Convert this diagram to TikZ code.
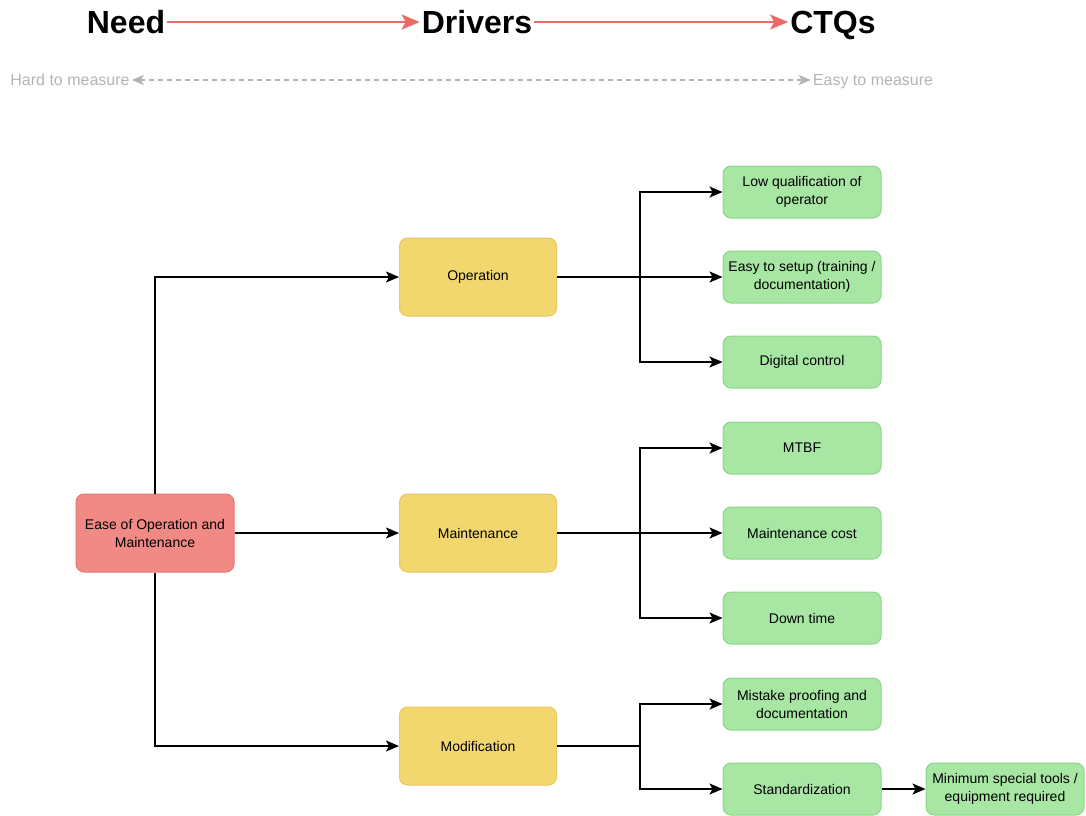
\documentclass[tikz,border=0pt]{standalone}
\usepackage{fontspec}
\setmainfont{Liberation Sans}
\usetikzlibrary{arrows.meta}
\definecolor{needred}{RGB}{241,137,132}
\definecolor{needredline}{RGB}{228,120,116}
\definecolor{drvyellow}{RGB}{242,214,110}
\definecolor{drvyellowline}{RGB}{232,200,95}
\definecolor{ctqgreen}{RGB}{168,230,164}
\definecolor{ctqgreenline}{RGB}{140,214,136}
\definecolor{flowred}{RGB}{234,107,102}
\definecolor{hintgray}{RGB}{180,180,180}
\tikzset{
  box/.style={rounded corners=8pt, line width=1pt, align=center,
    font=\fontsize{14}{18}\selectfont, inner sep=2pt},
  needbox/.style={box, fill=needred, draw=needredline, minimum width=158pt, minimum height=78pt},
  drvbox/.style={box, fill=drvyellow, draw=drvyellowline, minimum width=157pt, minimum height=78pt},
  ctqbox/.style={box, fill=ctqgreen, draw=ctqgreenline, minimum width=158pt, minimum height=52pt},
  conn/.style={line width=1.4pt, -{Stealth[length=13pt,width=11pt,inset=3pt]}},
  title/.style={font=\fontsize{32}{36}\selectfont\bfseries, inner sep=2pt,
    text height=23pt, text depth=0pt},
  hint/.style={font=\fontsize{16}{18}\selectfont, text=hintgray, inner sep=2pt,
    text height=11.5pt, text depth=0pt},
  flow/.style={draw=flowred, line width=2.2pt, -{Stealth[length=18pt,width=15pt,inset=4pt]}},
}
\begin{document}
\begin{tikzpicture}[x=1pt,y=-1pt]
\useasboundingbox (0,0) rectangle (1086,815);

% header: Need -> Drivers -> CTQs
\node[title] (need) at (126,22) {Need};
\node[title] (drv) at (477,22) {Drivers};
\node[title] (ctq) at (833,22) {CTQs};
\draw[flow] (need.east) -- (drv.west);
\draw[flow] (drv.east) -- (ctq.west);

\node[hint] (hard) at (70,80) {Hard to measure};
\node[hint] (easy) at (873,80) {Easy to measure};
\draw[hintgray, line width=1.6pt, dash pattern=on 5pt off 4pt,
  {Stealth[length=12pt,width=10pt,inset=3pt]}-{Stealth[length=12pt,width=10pt,inset=3pt]}] (hard.east) -- (easy.west);

% need
\node[needbox] (ease) at (155,533) {Ease of Operation and\\Maintenance};

% drivers
\node[drvbox] (op) at (478,277) {Operation};
\node[drvbox] (mt) at (478,533) {Maintenance};
\node[drvbox] (mod) at (478,746) {Modification};

% CTQs
\node[ctqbox] (lq) at (802,192) {Low qualification of\\operator};
\node[ctqbox] (es) at (802,277) {Easy to setup (training /\\documentation)};
\node[ctqbox] (dc) at (802,362) {Digital control};
\node[ctqbox] (mtbf) at (802,448) {MTBF};
\node[ctqbox] (mc) at (802,533) {Maintenance cost};
\node[ctqbox] (dt) at (802,618) {Down time};
\node[ctqbox] (mp) at (802,704) {Mistake proofing and\\documentation};
\node[ctqbox] (std) at (802,789) {Standardization};
\node[ctqbox] (mst) at (1005,789) {Minimum special tools /\\equipment required};

% need -> drivers
\draw[conn] (ease.north) |- (op.west);
\draw[conn] (ease.east) -- (mt.west);
\draw[conn] (ease.south) |- (mod.west);

% drivers -> CTQs
\draw[conn] (op.east) -- ++(83,0) |- (lq.west);
\draw[conn] (op.east) -- (es.west);
\draw[conn] (op.east) -- ++(83,0) |- (dc.west);
\draw[conn] (mt.east) -- ++(83,0) |- (mtbf.west);
\draw[conn] (mt.east) -- (mc.west);
\draw[conn] (mt.east) -- ++(83,0) |- (dt.west);
\draw[conn] (mod.east) -- ++(83,0) |- (mp.west);
\draw[conn] (mod.east) -- ++(83,0) |- (std.west);
\draw[conn] (std.east) -- (mst.west);
\end{tikzpicture}
\end{document}
